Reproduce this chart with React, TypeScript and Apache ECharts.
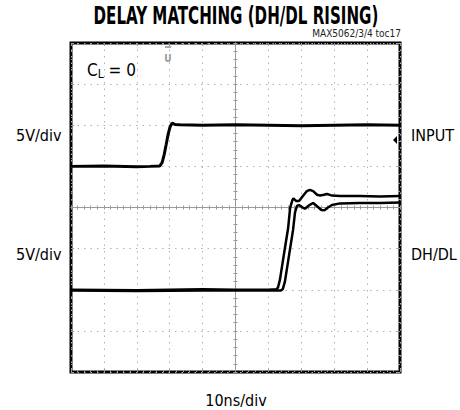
import React, { useEffect, useRef } from "react";
import * as echarts from "echarts";

// Oscilloscope divisions: x from -5 to 5 (10ns/div), y from -4 to 4 (5V/div)
const inputX = [-5, -4, -3, -2.6, -2.3, -2.23, -2.17, -2.11, -2.05, -1.99, -1.93, -1.84, -1.69, -1, 0, 1, 2, 3, 4, 5];
const inputY = [1.0, 1.01, 0.99, 1.0, 1.01, 1.09, 1.28, 1.52, 1.77, 1.96, 2.05, 2.02, 2.01, 2.0, 2.01, 2.0, 1.99, 2.0, 2.01, 2.0];

const dh1X = [-5, -3, -1, 0, 1, 1.23, 1.29, 1.35, 1.47, 1.6, 1.66, 1.73, 1.76, 1.84, 1.93, 2.05, 2.17, 2.26, 2.36, 2.48, 2.57, 2.69, 2.78, 2.93, 3.18, 3.78, 4.39, 5];
const dh1Y = [-2, -2.01, -1.99, -2, -2, -1.99, -1.95, -1.76, -1.15, -0.5, -0.01, 0.18, 0.22, 0.16, 0.16, 0.28, 0.4, 0.43, 0.4, 0.31, 0.29, 0.31, 0.33, 0.29, 0.28, 0.28, 0.27, 0.28];

const dh2X = [-5, -3, -1, 0, 1, 1.38, 1.44, 1.5, 1.62, 1.75, 1.81, 1.87, 1.93, 2.02, 2.11, 2.23, 2.36, 2.48, 2.61, 2.7, 2.81, 2.93, 3.18, 3.78, 4.39, 5];
const dh2Y = [-2.02, -2.03, -2.02, -2.02, -2.02, -2.02, -1.98, -1.81, -1.2, -0.54, -0.11, 0.04, 0.06, 0.01, -0.03, 0.05, 0.11, 0.03, -0.06, -0.07, 0.0, 0.06, 0.1, 0.11, 0.11, 0.12];

const titleText = "DELAY MATCHING (DH/DL RISING)";
const tocText = "MAX5062/3/4 toc17";
const leftLabels = ["5V/div", "5V/div"];
const rightLabels = ["INPUT", "DH/DL"];
const xUnitText = "10ns/div";

const zip = (xs: number[], ys: number[]) => xs.map((x, i) => [x, ys[i]]);

const NARROW = '"Liberation Sans Narrow", "Arial Narrow", "DejaVu Sans Condensed", sans-serif';

export default function App() {
  const ref = useRef<HTMLDivElement>(null);
  useEffect(() => {
    if (!ref.current) return;
    const chart = echarts.init(ref.current, null, { renderer: "svg" });
    const tickColor = "#9a9a9a";
    const dotted = { show: true, lineStyle: { color: "#b0b0b0", type: [1.5, 5] as any, width: 1 } };
    const centerAxis = (pos: string, isX: boolean) => ({
      type: "value",
      min: isX ? -5 : -4,
      max: isX ? 5 : 4,
      interval: 1,
      position: pos,
      axisLine: { show: true, onZero: true, lineStyle: { color: tickColor, width: 1 } },
      axisTick: { show: true, length: 2, lineStyle: { color: tickColor } },
      minorTick: { show: true, splitNumber: 5, length: 2, lineStyle: { color: tickColor } },
      axisLabel: { show: false },
      splitLine: pos === "bottom" || pos === "left" ? dotted : { show: false },
    });
    const edgeAxis = (pos: string, isX: boolean) => ({
      type: "value",
      min: isX ? -5 : -4,
      max: isX ? 5 : 4,
      interval: 1,
      position: pos,
      axisLine: { show: false, onZero: false },
      axisTick: { show: true, inside: true, length: 3, lineStyle: { color: tickColor } },
      minorTick: { show: true, splitNumber: 5, length: 2, lineStyle: { color: tickColor } },
      axisLabel: { show: false },
      splitLine: { show: false },
    });
    const line = (name: string, data: number[][], width: number) => ({
      name,
      type: "line",
      data,
      showSymbol: false,
      symbol: "none",
      lineStyle: { color: "#000", width },
      itemStyle: { color: "#000" },
      z: 5,
    });
    chart.setOption({
      animation: false,
      backgroundColor: "#fff",
      grid: { left: 71, top: 43, width: 329, height: 329, show: true, borderColor: "#000", borderWidth: 3, backgroundColor: "transparent" },
      xAxis: [centerAxis("bottom", true), centerAxis("top", true), edgeAxis("bottom", true), edgeAxis("top", true)],
      yAxis: [centerAxis("left", false), centerAxis("right", false), edgeAxis("left", false), edgeAxis("right", false)],
      series: [
        line("INPUT", zip(inputX, inputY), 3),
        line("DH", zip(dh1X, dh1Y), 2.5),
        line("DL", zip(dh2X, dh2Y), 2.5),
      ],
      graphic: [
        { type: "text", x: 236, y: 16, scaleX: 0.7, style: { text: titleText, font: `bold 24px ${NARROW}`, fill: "#000", align: "center", verticalAlign: "middle" } },
        { type: "text", x: 401, y: 33, style: { text: tocText, font: `10px ${NARROW}`, fill: "#222", align: "right", verticalAlign: "middle" } },
        {
          type: "text", x: 87, y: 70,
          style: {
            text: "{a|C}{b|L}{a| = 0}",
            align: "left", verticalAlign: "middle",
            rich: {
              a: { font: `17px ${NARROW}`, fill: "#000" },
              b: { font: `12px ${NARROW}`, fill: "#000", padding: [8, 0, 0, 0] },
            },
          },
        },
        { type: "text", x: 16, y: 135, style: { text: leftLabels[0], font: `16px ${NARROW}`, fill: "#000", align: "left", verticalAlign: "middle" } },
        { type: "text", x: 16, y: 254, style: { text: leftLabels[1], font: `16px ${NARROW}`, fill: "#000", align: "left", verticalAlign: "middle" } },
        { type: "text", x: 411, y: 135, style: { text: rightLabels[0], font: `16px ${NARROW}`, fill: "#000", align: "left", verticalAlign: "middle" } },
        { type: "text", x: 411, y: 254, style: { text: rightLabels[1], font: `16px ${NARROW}`, fill: "#000", align: "left", verticalAlign: "middle" } },
        { type: "text", x: 236, y: 400, style: { text: xUnitText, font: `16px ${NARROW}`, fill: "#000", align: "center", verticalAlign: "middle" } },
        { type: "text", x: 168, y: 58, style: { text: "U", font: `bold 10px ${NARROW}`, fill: "#999", align: "center", verticalAlign: "middle" } },
        { type: "rect", shape: { x: 165, y: 46, width: 6, height: 2 }, style: { fill: "#aaa" } },
        { type: "polygon", shape: { points: [[397, 136], [393, 140], [397, 144]] }, style: { fill: "#000" } },
      ],
    });
    return () => chart.dispose();
  }, []);
  return <div ref={ref} style={{ position: "absolute", left: 0, top: 0, width: 460, height: 410 }} />;
}
